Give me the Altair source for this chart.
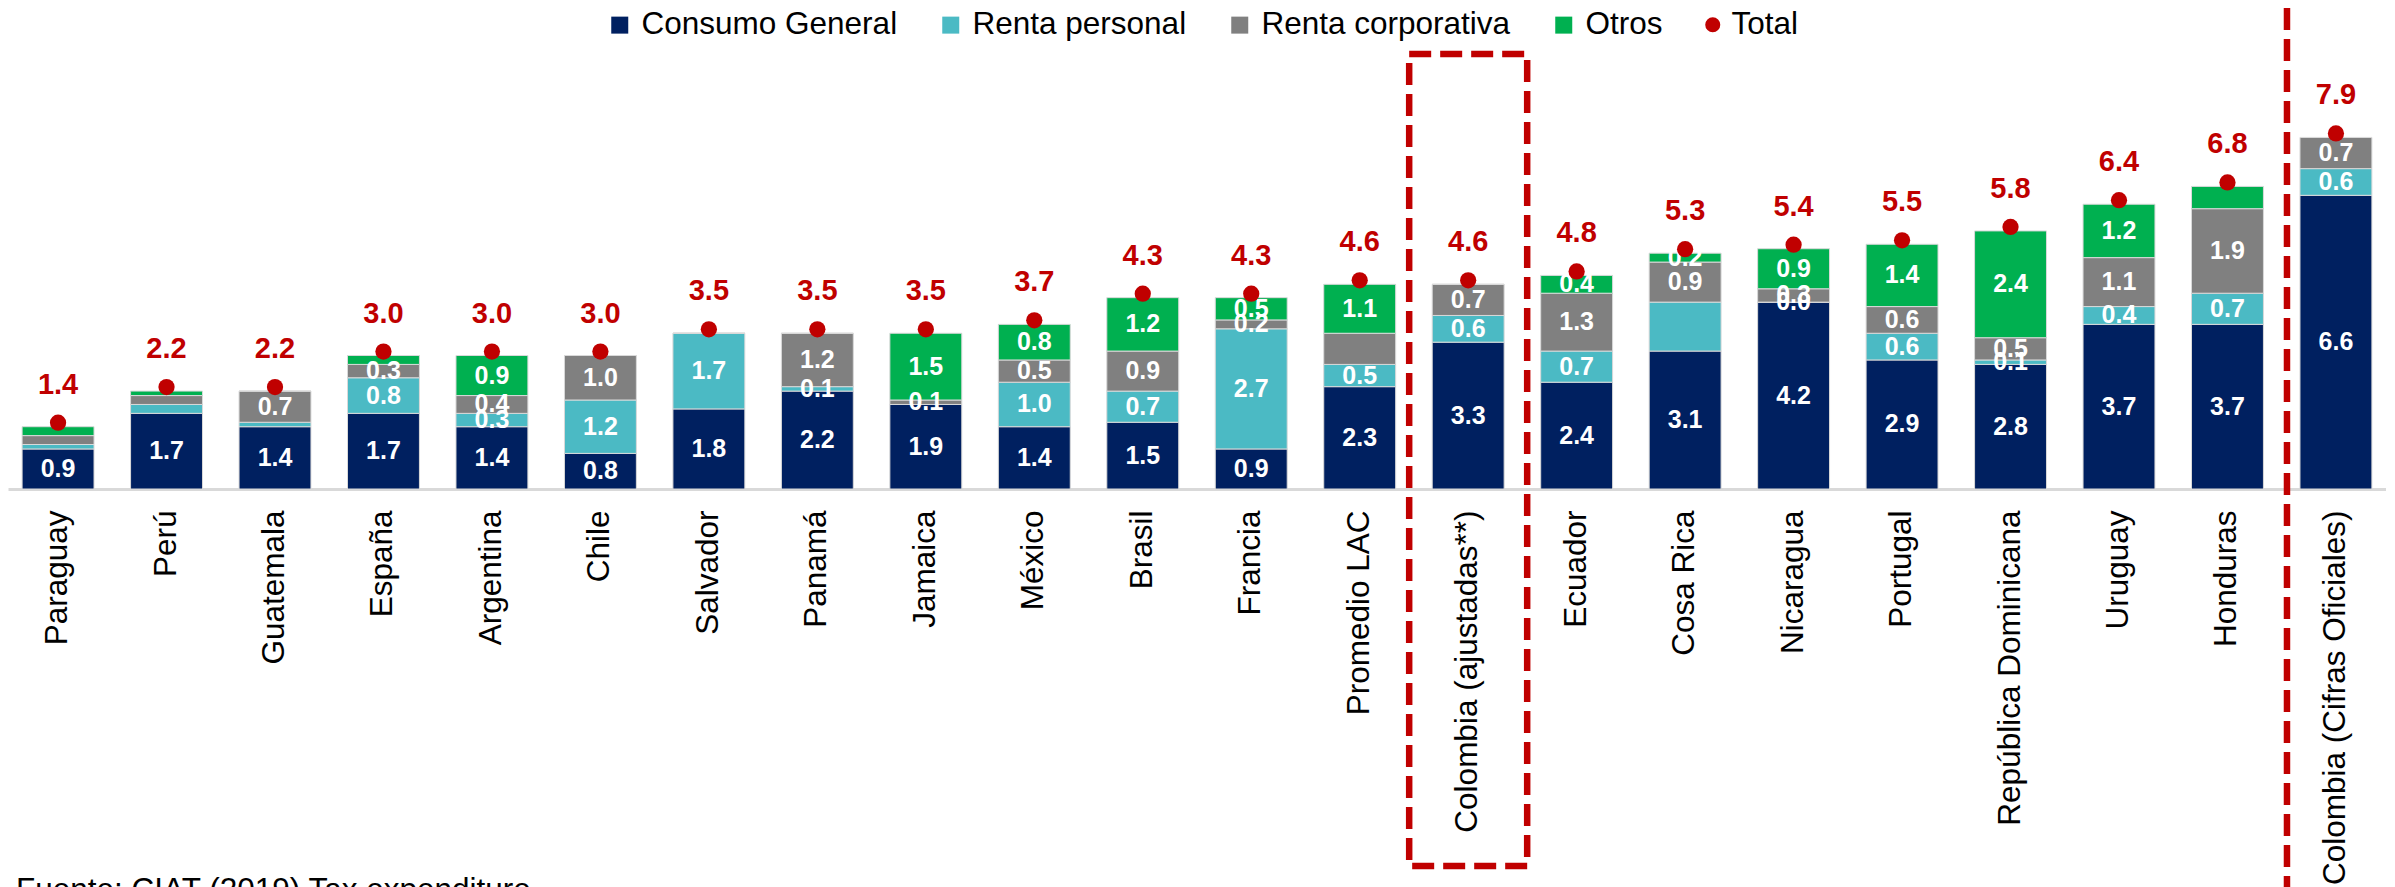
import altair as alt
import pandas as pd

categories = [
    "Paraguay", "Perú", "Guatemala", "España", "Argentina", "Chile", "Salvador",
    "Panamá", "Jamaica", "México", "Brasil", "Francia", "Promedio LAC",
    "Colombia (ajustadas**)", "Ecuador", "Cosa Rica", "Nicaragua", "Portugal",
    "República Dominicana", "Uruguay", "Honduras", "Colombia (Cifras Oficiales)",
]
consumo = [0.9, 1.7, 1.4, 1.7, 1.4, 0.8, 1.8, 2.2, 1.9, 1.4, 1.5, 0.9, 2.3, 3.3, 2.4, 3.1, 4.2, 2.9, 2.8, 3.7, 3.7, 6.6]
renta_personal = [0.1, 0.2, 0.1, 0.8, 0.3, 1.2, 1.7, 0.1, 0.0, 1.0, 0.7, 2.7, 0.5, 0.6, 0.7, 1.1, 0.0, 0.6, 0.1, 0.4, 0.7, 0.6]
renta_corporativa = [0.2, 0.2, 0.7, 0.3, 0.4, 1.0, 0.0, 1.2, 0.1, 0.5, 0.9, 0.2, 0.7, 0.7, 1.3, 0.9, 0.3, 0.6, 0.5, 1.1, 1.9, 0.7]
otros = [0.2, 0.1, 0.0, 0.2, 0.9, 0.0, 0.0, 0.0, 1.5, 0.8, 1.2, 0.5, 1.1, 0.0, 0.4, 0.2, 0.9, 1.4, 2.4, 1.2, 0.5, 0.0]
totales = [1.4, 2.2, 2.2, 3.0, 3.0, 3.0, 3.5, 3.5, 3.5, 3.7, 4.3, 4.3, 4.6, 4.6, 4.8, 5.3, 5.4, 5.5, 5.8, 6.4, 6.8, 7.9]

# which segment values carry a visible data label (1 = shown)
lbl_consumo = [1] * 22
lbl_personal = [0, 0, 0, 1, 1, 1, 1, 1, 0, 1, 1, 1, 1, 1, 1, 0, 1, 1, 1, 1, 1, 1]
lbl_corporativa = [0, 0, 1, 1, 1, 1, 0, 1, 1, 1, 1, 1, 0, 1, 1, 1, 1, 1, 1, 1, 1, 1]
lbl_otros = [0, 0, 0, 0, 1, 0, 0, 0, 1, 1, 1, 1, 1, 0, 1, 1, 1, 1, 1, 1, 0, 0]

series_names = ["Consumo General", "Renta personal", "Renta corporativa", "Otros"]
series_colors = ["#002060", "#4BBAC4", "#808080", "#00B050"]
total_name = "Total"
total_color = "#C00000"
footer = "Fuente: CIAT (2019) Tax expenditure"
box_category = ["Colombia (ajustadas**)"]
separator_category = ["Colombia (Cifras Oficiales)"]

rows = []
for idx, (name, vals, flags) in enumerate(zip(
        series_names,
        [consumo, renta_personal, renta_corporativa, otros],
        [lbl_consumo, lbl_personal, lbl_corporativa, lbl_otros])):
    for c, v, f in zip(categories, vals, flags):
        rows.append({"cat": c, "serie": name, "orden": idx, "valor": v,
                     "etiqueta": f"{v:.1f}" if f else ""})
df = pd.DataFrame(rows)
tot_df = pd.DataFrame({"cat": categories, "total": totales, "serie": [total_name] * len(categories)})

FONT = "Liberation Sans"
W, H = 2378, 481

x_scale = alt.Scale(domain=categories, paddingInner=0.337, paddingOuter=0.13)
y_scale = alt.Scale(domain=[0, 10.81], nice=False, zero=True)
x_axis = alt.Axis(title=None, labelAngle=-90, labelFont=FONT, labelFontSize=31.5,
                  labelColor="#000000", labelPadding=21, ticks=False, tickSize=0,
                  domainColor="#D9D9D9", domainWidth=3, labelLimit=600, grid=False)
x_enc = alt.X("cat:N", scale=x_scale, sort=categories, axis=x_axis)

bars = alt.Chart(df).mark_bar(stroke="#D9D9D9", strokeWidth=1).encode(
    x=x_enc,
    y=alt.Y("valor:Q", stack="zero", scale=y_scale, axis=None),
    color=alt.Color("serie:N", scale=alt.Scale(domain=series_names, range=series_colors),
                    legend=alt.Legend(title=None, orient="none", legendX=596, legendY=1,
                                      direction="horizontal", symbolType="square",
                                      symbolSize=289, symbolStrokeWidth=0,
                                      labelFont=FONT, labelFontSize=31.5, labelColor="#000000",
                                      labelLimit=600, labelOffset=6, columnPadding=37,
                                      padding=0)),
    order=alt.Order("orden:Q", sort="ascending"),
)

seg = alt.Chart(df).transform_stack(
    stack="valor", groupby=["cat"], sort=[alt.SortField("orden", order="ascending")],
    as_=["y0", "y1"]
).transform_calculate(
    mid="(datum.y0 + datum.y1) / 2"
).transform_filter(
    "datum.etiqueta != ''"
).mark_text(font=FONT, fontSize=25, fontWeight="bold", color="white", baseline="middle").encode(
    x=x_enc,
    y=alt.Y("mid:Q", scale=y_scale, axis=None),
    text="etiqueta:N",
)

dots = alt.Chart(tot_df).mark_point(filled=True, size=264, color=total_color, opacity=1, yOffset=-4).encode(
    x=x_enc,
    y=alt.Y("total:Q", scale=y_scale, axis=None),
    shape=alt.Shape("serie:N", scale=alt.Scale(domain=[total_name], range=["circle"]),
                    legend=alt.Legend(title=None, orient="none", legendX=1689, legendY=1,
                                      symbolSize=227, symbolFillColor=total_color,
                                      symbolStrokeColor=total_color, symbolStrokeWidth=0,
                                      labelFont=FONT, labelFontSize=31.5, labelColor="#000000",
                                      labelOffset=3, padding=0)),
)

tot_lbl = alt.Chart(tot_df).mark_text(font=FONT, fontSize=29, fontWeight="bold", color=total_color,
                                      baseline="middle", dy=-42).encode(
    x=x_enc,
    y=alt.Y("total:Q", scale=y_scale, axis=None),
    text=alt.Text("total:Q", format=".1f"),
)

box = alt.Chart(pd.DataFrame({"cat": box_category})).mark_bar(
    width=118, fillOpacity=0, stroke=total_color, strokeWidth=6.5, strokeDash=[22, 9]
).encode(
    x=x_enc,
    y=alt.value(46),
    y2=alt.value(858),
)

sep = alt.Chart(pd.DataFrame({"cat": separator_category})).mark_rule(
    color=total_color, strokeWidth=6.5, strokeDash=[22, 9], xOffset=-13
).encode(
    x=alt.X("cat:N", scale=x_scale, sort=categories, axis=x_axis, bandPosition=0),
    y=alt.value(0),
    y2=alt.value(879),
)

foot = alt.Chart(pd.DataFrame({"t": [footer]})).mark_text(
    font=FONT, fontSize=31.5, align="left", baseline="alphabetic", color="#000000"
).encode(
    x=alt.value(8),
    y=alt.value(892),
    text="t:N",
)

chart = alt.layer(bars, seg, dots, tot_lbl, box, sep, foot).properties(
    width=W, height=H,
    autosize=alt.AutoSizeParams(type="none"),
    padding={"left": 0, "right": 0, "top": 0, "bottom": 398},
).configure_view(stroke=None)

chart.save("out.html", embed_options={"renderer": "svg", "actions": False})
